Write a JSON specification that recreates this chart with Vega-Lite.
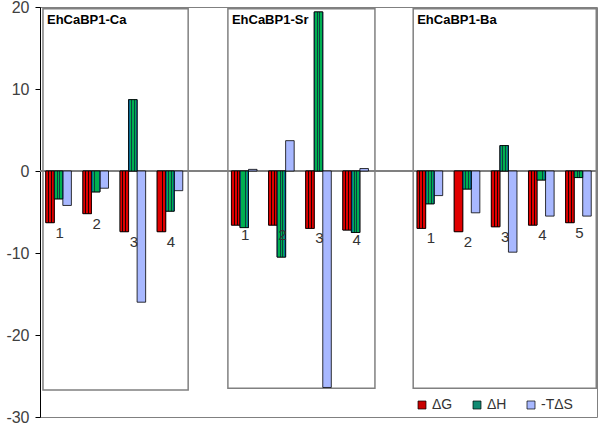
{
  "$schema": "https://vega.github.io/schema/vega-lite/v6.json",
  "width": 557,
  "height": 410,
  "autosize": "none",
  "padding": {"left": 40, "top": 7, "right": 3, "bottom": 8},
  "background": "white",
  "config": {
    "view": {"stroke": "#808080", "strokeWidth": 1},
    "font": "Liberation Sans"
  },
  "datasets": {
    "bars": [
      {"slot": "Ca-1", "site": "1", "measure": "ΔG", "value": -6.3},
      {"slot": "Ca-1", "site": "1", "measure": "ΔH", "value": -3.4},
      {"slot": "Ca-1", "site": "1", "measure": "-TΔS", "value": -4.2},
      {"slot": "Ca-2", "site": "2", "measure": "ΔG", "value": -5.2},
      {"slot": "Ca-2", "site": "2", "measure": "ΔH", "value": -2.55},
      {"slot": "Ca-2", "site": "2", "measure": "-TΔS", "value": -2.1},
      {"slot": "Ca-3", "site": "3", "measure": "ΔG", "value": -7.4},
      {"slot": "Ca-3", "site": "3", "measure": "ΔH", "value": 8.7},
      {"slot": "Ca-3", "site": "3", "measure": "-TΔS", "value": -16.0},
      {"slot": "Ca-4", "site": "4", "measure": "ΔG", "value": -7.4},
      {"slot": "Ca-4", "site": "4", "measure": "ΔH", "value": -4.9},
      {"slot": "Ca-4", "site": "4", "measure": "-TΔS", "value": -2.4},
      {"slot": "Sr-1", "site": "1", "measure": "ΔG", "value": -6.6},
      {"slot": "Sr-1", "site": "1", "measure": "ΔH", "value": -6.9},
      {"slot": "Sr-1", "site": "1", "measure": "-TΔS", "value": 0.2},
      {"slot": "Sr-2", "site": "2", "measure": "ΔG", "value": -6.6},
      {"slot": "Sr-2", "site": "2", "measure": "ΔH", "value": -10.5},
      {"slot": "Sr-2", "site": "2", "measure": "-TΔS", "value": 3.7},
      {"slot": "Sr-3", "site": "3", "measure": "ΔG", "value": -7.0},
      {"slot": "Sr-3", "site": "3", "measure": "ΔH", "value": 19.4},
      {"slot": "Sr-3", "site": "3", "measure": "-TΔS", "value": -26.4},
      {"slot": "Sr-4", "site": "4", "measure": "ΔG", "value": -7.2},
      {"slot": "Sr-4", "site": "4", "measure": "ΔH", "value": -7.5},
      {"slot": "Sr-4", "site": "4", "measure": "-TΔS", "value": 0.3},
      {"slot": "Ba-1", "site": "1", "measure": "ΔG", "value": -7.0},
      {"slot": "Ba-1", "site": "1", "measure": "ΔH", "value": -4.0},
      {"slot": "Ba-1", "site": "1", "measure": "-TΔS", "value": -3.0},
      {"slot": "Ba-2", "site": "2", "measure": "ΔG", "value": -7.4},
      {"slot": "Ba-2", "site": "2", "measure": "ΔH", "value": -2.2},
      {"slot": "Ba-2", "site": "2", "measure": "-TΔS", "value": -5.1},
      {"slot": "Ba-3", "site": "3", "measure": "ΔG", "value": -6.8},
      {"slot": "Ba-3", "site": "3", "measure": "ΔH", "value": 3.1},
      {"slot": "Ba-3", "site": "3", "measure": "-TΔS", "value": -9.9},
      {"slot": "Ba-4", "site": "4", "measure": "ΔG", "value": -6.6},
      {"slot": "Ba-4", "site": "4", "measure": "ΔH", "value": -1.1},
      {"slot": "Ba-4", "site": "4", "measure": "-TΔS", "value": -5.5},
      {"slot": "Ba-5", "site": "5", "measure": "ΔG", "value": -6.3},
      {"slot": "Ba-5", "site": "5", "measure": "ΔH", "value": -0.8},
      {"slot": "Ba-5", "site": "5", "measure": "-TΔS", "value": -5.5}
    ],
    "boxes": [
      {"panel": "EhCaBP1-Ca", "x0": 0.08, "x1": 3.99, "top": 19.8, "bottom": -26.7},
      {"panel": "EhCaBP1-Sr", "x0": 5.06, "x1": 9.02, "top": 19.8, "bottom": -26.5},
      {"panel": "EhCaBP1-Ba", "x0": 10.05, "x1": 14.98, "top": 19.8, "bottom": -26.5}
    ]
  },
  "resolve": {"scale": {"x": "independent"}},
  "layer": [
    {
      "data": {"name": "boxes"},
      "layer": [
        {
          "mark": {"type": "rect", "fill": "white", "fillOpacity": 0, "stroke": "#808080", "strokeWidth": 1.5},
          "encoding": {
            "x": {"field": "x0", "type": "quantitative", "scale": {"domain": [0, 15], "nice": false, "zero": false}, "axis": null},
            "x2": {"field": "x1"},
            "y": {"field": "top", "type": "quantitative", "scale": {"domain": [-30, 20], "nice": false}},
            "y2": {"field": "bottom"}
          }
        },
        {
          "mark": {"type": "text", "align": "left", "baseline": "top", "dx": 4, "dy": 5, "fontSize": 13, "fontWeight": "bold", "font": "Liberation Sans", "color": "#000"},
          "encoding": {
            "x": {"field": "x0", "type": "quantitative", "scale": {"domain": [0, 15], "nice": false, "zero": false}, "axis": null},
            "y": {"field": "top", "type": "quantitative"},
            "text": {"field": "panel"}
          }
        }
      ]
    },
    {
      "data": {"name": "bars"},
      "encoding": {
        "x": {
          "field": "slot",
          "type": "nominal",
          "scale": {
            "domain": ["Ca-1", "Ca-2", "Ca-3", "Ca-4", "gapA", "Sr-1", "Sr-2", "Sr-3", "Sr-4", "gapB", "Ba-1", "Ba-2", "Ba-3", "Ba-4", "Ba-5"],
            "paddingInner": 0.31,
            "paddingOuter": 0.155
          },
          "axis": null
        },
        "y": {
          "field": "value",
          "type": "quantitative",
          "scale": {"domain": [-30, 20], "nice": false},
          "axis": {
            "values": [-30, -20, -10, 0, 10, 20],
            "labelExpr": "datum.value < 0 ? '-' + abs(datum.value) : '' + datum.value",
            "title": null,
            "grid": false,
            "domainColor": "#000",
            "tickColor": "#000",
            "tickSize": 5,
            "labelFontSize": 16,
            "labelColor": "#404040",
            "labelPadding": 6,
            "labelFlush": false,
            "labelFont": "Liberation Sans"
          }
        }
      },
      "layer": [
        {
          "mark": {"type": "rule", "color": "#808080", "strokeWidth": 1.2},
          "encoding": {"y": {"datum": 0}, "x": {"value": 0}, "x2": {"value": 557}}
        },
        {
          "mark": {"type": "bar", "stroke": "#000", "strokeWidth": 0.8},
          "encoding": {
            "xOffset": {"field": "measure", "type": "nominal", "scale": {"domain": ["ΔG", "ΔH", "-TΔS"], "paddingInner": 0, "paddingOuter": 0}},
            "color": {
              "field": "measure",
              "type": "nominal",
              "scale": {"domain": ["ΔG", "ΔH", "-TΔS"], "range": ["#c80000", "#128a72", "#a8b8ff"]},
              "legend": {
                "orient": "none",
                "legendX": 375,
                "legendY": 391,
                "direction": "horizontal",
                "title": null,
                "symbolType": "square",
                "symbolSize": 64,
                "symbolStrokeColor": "#000",
                "symbolStrokeWidth": 0.7,
                "labelFontSize": 14,
                "labelFont": "Liberation Sans",
                "labelColor": "#333",
                "columnPadding": 17,
                "labelOffset": 3
              }
            }
          }
        },
        {
          "transform": [{"filter": "datum.measure === 'ΔG'"}],
          "mark": {
            "type": "bar",
            "stroke": "#000",
            "strokeWidth": 0.8,
            "fill": {
              "gradient": "linear", "x1": 0, "y1": 0, "x2": 1, "y2": 0,
              "stops": [
                {"offset": 0, "color": "#e00000"},
                {"offset": 0.28, "color": "#e00000"},
                {"offset": 0.28, "color": "#200000"},
                {"offset": 0.38, "color": "#200000"},
                {"offset": 0.38, "color": "#e00000"},
                {"offset": 0.62, "color": "#e00000"},
                {"offset": 0.62, "color": "#200000"},
                {"offset": 0.72, "color": "#200000"},
                {"offset": 0.72, "color": "#e00000"},
                {"offset": 1, "color": "#e00000"}
              ]
            }
          },
          "encoding": {
            "xOffset": {"field": "measure", "type": "nominal"}
          }
        },
        {
          "transform": [{"filter": "datum.measure === 'ΔH'"}],
          "mark": {
            "type": "bar",
            "stroke": "#000",
            "strokeWidth": 0.8,
            "fill": {
              "gradient": "linear", "x1": 0, "y1": 0, "x2": 1, "y2": 0,
              "stops": [
                {"offset": 0, "color": "#0a6e9a"},
                {"offset": 0.14, "color": "#0a6e9a"},
                {"offset": 0.14, "color": "#00b050"},
                {"offset": 0.3, "color": "#00b050"},
                {"offset": 0.3, "color": "#0a4040"},
                {"offset": 0.4, "color": "#0a4040"},
                {"offset": 0.4, "color": "#00b050"},
                {"offset": 0.6, "color": "#00b050"},
                {"offset": 0.6, "color": "#0a4040"},
                {"offset": 0.7, "color": "#0a4040"},
                {"offset": 0.7, "color": "#00b050"},
                {"offset": 0.86, "color": "#00b050"},
                {"offset": 0.86, "color": "#0a6e9a"},
                {"offset": 1, "color": "#0a6e9a"}
              ]
            }
          },
          "encoding": {
            "xOffset": {"field": "measure", "type": "nominal"}
          }
        },
        {
          "transform": [{"filter": "datum.measure === 'ΔG'"}],
          "mark": {"type": "text", "align": "center", "baseline": "middle", "dx": 1, "dy": 10, "fontSize": 15, "font": "Liberation Sans", "color": "#333"},
          "encoding": {
            "text": {"field": "site"}
          }
        }
      ]
    }
  ]
}
